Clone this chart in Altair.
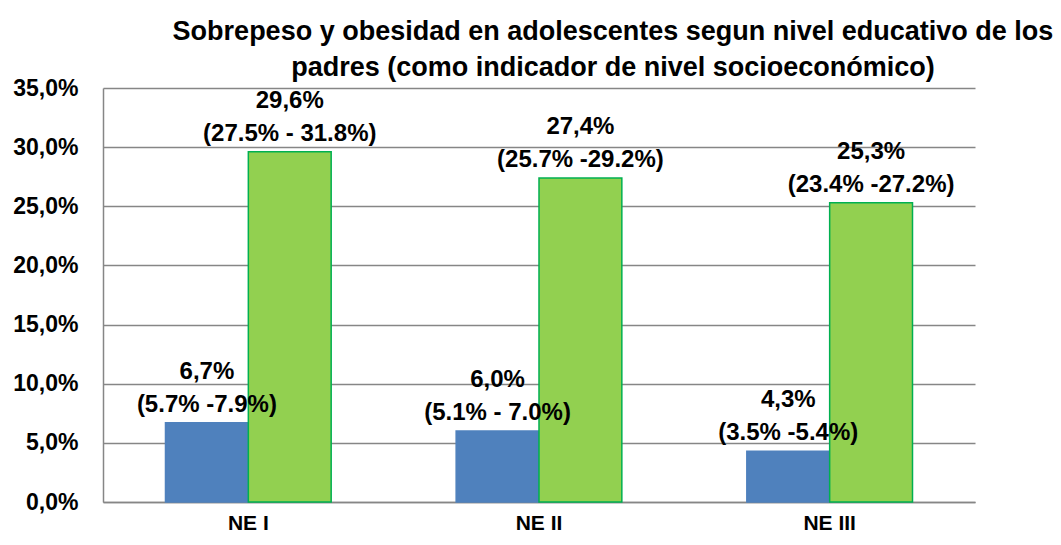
import altair as alt
import pandas as pd

categories = ["NE I", "NE II", "NE III"]
series = ["A", "B"]
blue_values = [6.7, 6.0, 4.3]
green_values = [29.6, 27.4, 25.3]
blue_labels = ["6,7%\n(5.7% -7.9%)", "6,0%\n(5.1% - 7.0%)", "4,3%\n(3.5% -5.4%)"]
green_labels = ["29,6%\n(27.5% - 31.8%)", "27,4%\n(25.7% -29.2%)", "25,3%\n(23.4% -27.2%)"]
y_ticks = [0, 5, 10, 15, 20, 25, 30, 35]

rows = []
for i, c in enumerate(categories):
    rows.append({"cat": c, "ser": "A", "val": blue_values[i], "lab": blue_labels[i]})
    rows.append({"cat": c, "ser": "B", "val": green_values[i], "lab": green_labels[i]})
df = pd.DataFrame(rows)

FONT = "Liberation Sans"

x = alt.X("cat:N", sort=categories, title=None,
          scale=alt.Scale(paddingInner=0.43, paddingOuter=0.215),
          axis=alt.Axis(labelAngle=0, labelFont=FONT, labelFontSize=21, labelFontWeight="bold",
                        labelColor="#000000", labelPadding=10, ticks=False,
                        domainColor="#868686", domainWidth=1.5, grid=False))
y = alt.Y("val:Q", title=None,
          scale=alt.Scale(domain=[0, 35], nice=False),
          axis=alt.Axis(values=y_ticks, labelExpr="replace(format(datum.value, '.1f'), '.', ',') + '%'",
                        labelFont=FONT, labelFontSize=23, labelFontWeight="bold",
                        labelColor="#000000", labelPadding=25, ticks=False,
                        domainColor="#868686", domainWidth=1.5,
                        grid=True, gridColor="#868686", gridWidth=1.5))
xo = alt.XOffset("ser:N", sort=series, scale=alt.Scale(paddingInner=0, paddingOuter=0))

bars = alt.Chart(df).mark_bar(strokeWidth=1.5).encode(
    x=x, y=y, xOffset=xo,
    color=alt.Color("ser:N", scale=alt.Scale(domain=series, range=["#4F81BD", "#92D050"]), legend=None),
    stroke=alt.Stroke("ser:N", scale=alt.Scale(domain=series, range=["#4F81BD", "#00B050"]), legend=None),
)

labels = alt.Chart(df).mark_text(
    font=FONT, fontSize=24, fontWeight="bold", color="#000000",
    lineBreak="\n", lineHeight=33, baseline="bottom", dy=-39, align="center"
).encode(x=alt.X("cat:N", sort=categories), y="val:Q", xOffset=xo, text="lab:N")

chart = alt.layer(bars, labels).properties(
    width=872, height=414,
    autosize=alt.AutoSizeParams(type="none"),
    padding={"left": 95, "top": 80, "right": 78, "bottom": 35},
    title=alt.TitleParams(
        ["Sobrepeso y obesidad en adolescentes segun nivel educativo de los",
         "padres (como indicador de nivel socioeconómico)"],
        font=FONT, fontSize=27, fontWeight="bold", color="#000000",
        anchor="middle", dx=74, offset=-5, lineHeight=36,
    ),
).configure_view(stroke=None)

chart.save("out.html", embed_options={"renderer": "svg", "actions": False})
